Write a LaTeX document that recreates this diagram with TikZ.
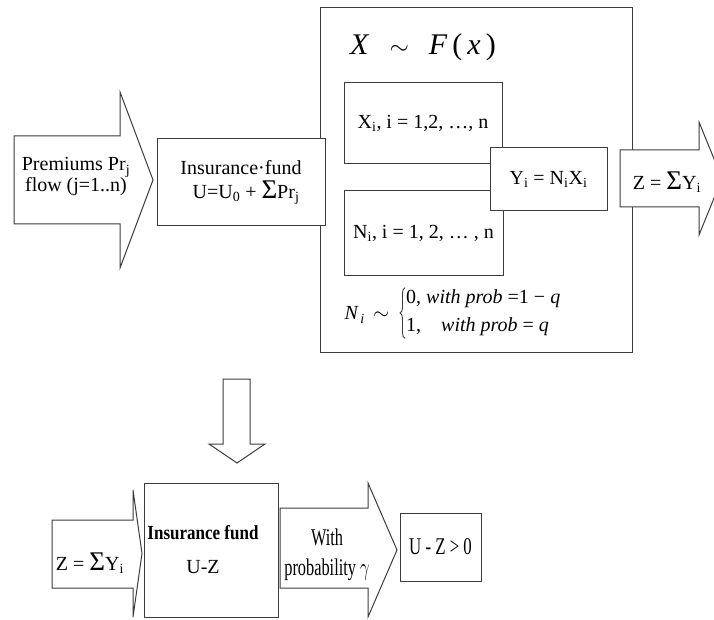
\documentclass[tikz,border=0pt]{standalone}
\usepackage{fontspec}
\usepackage{graphicx}
\usetikzlibrary{decorations.pathreplacing}
\setmainfont{Liberation Serif}
\definecolor{ln}{RGB}{60,60,60}
\newcommand{\bigsig}{{\fontsize{27}{20}\selectfont Σ}}
\begin{document}
\begin{tikzpicture}[x=1pt,y=-1pt,
  box/.style={draw=ln,line width=1pt,fill=white,inner sep=0pt},
  blk/.style={draw=ln,line width=1pt,fill=white,line join=miter},
  txt/.style={inner sep=0pt,align=center,font=\fontsize{20}{24}\selectfont}]
\useasboundingbox (0,0) rectangle (714,620);
\clip (0,0) rectangle (714,620);
% big box
\node[box,minimum width=312,minimum height=344] (big) at (476,180) {};
\node[txt,font=\fontsize{30}{32}\selectfont] (title) at (423,47) {\textit{X}\enspace\,$\sim$\enspace\,\textit{F}\,(\,\textit{x}\,)};
\node[box,minimum width=158,minimum height=81] (xbox) at (423,123.5) {};
\node[txt] (xt) at (xbox) {X\textsubscript{i}, i = 1,2, …, n};
\node[box,minimum width=159,minimum height=84] (nbox) at (423.5,233) {};
\node[txt] (nt) at (nbox) {N\textsubscript{i}, i = 1, 2, … , n};
\node[box,minimum width=117,minimum height=63] (ybox) at (548.5,179.5) {};
\node[txt] (yt) at (ybox) {Y\textsubscript{i} = N\textsubscript{i}X\textsubscript{i}};
\node[txt,font=\fontsize{20}{22}\selectfont] (nlab) at (367,315) {\textit{N\textsubscript{\,i}}\, $\sim$};
\node[txt,font=\fontsize{20}{28}\selectfont,align=left,anchor=west] (ncases) at (406,313)
  {0, \textit{with prob} =1 − \textit{q}\\1,\quad\textit{with prob} = \textit{q}};
\draw[ln,line width=0.9pt,decorate,decoration={brace,amplitude=5pt,raise=1pt}]
  (ncases.south west) ++(0,2) coordinate (bb) (ncases.north west) ++(0,-2) coordinate (bt) (bb) -- (bt);
% insurance fund box
\node[box,minimum width=168,minimum height=87] (ins) at (241,182.5) {};
\node[txt] (inst) at (ins) {Insurance·fund\\\hspace*{10pt}U=U\textsubscript{0} + \bigsig Pr\textsubscript{j}};
% premiums arrow
\draw[blk] (14,136) -- (120,136) -- (120,92) -- (153,180) -- (120,268) -- (120,224) -- (14,224) -- cycle;
\node[txt,font=\fontsize{20}{21}\selectfont] (prem) at (76,177) {Premiums Pr\textsubscript{j}\\flow (j=1..n)};
% Z arrow top
\draw[blk] (620,150) -- (699,150) -- (699,122) -- (722,178.5) -- (699,235) -- (699,207) -- (620,207) -- cycle;
\node[txt] (zt) at (667,182) {Z = \bigsig Y\textsubscript{i}};
% down arrow
\draw[blk] (223,379) -- (250,379) -- (250,444) -- (265,444) -- (237,463) -- (209,444) -- (223,444) -- cycle;
% bottom row
\draw[blk] (52,520) -- (133,520) -- (133,490) -- (142,553.5) -- (133,617) -- (133,588) -- (52,588) -- cycle;
\node[txt] (zb) at (90,563) {Z = \bigsig Y\textsubscript{i}};
\node[box,minimum width=134,minimum height=134] (fund) at (211,550) {};
\node[txt,font=\fontsize{20}{34}\selectfont] (fundt) at (203,550) {\scalebox{0.85}[1]{\bfseries Insurance fund}\\U-Z};
\draw[blk] (280,508) -- (368,508) -- (368,483) -- (397,550) -- (368,617) -- (368,588) -- (280,588) -- cycle;
\node[txt,font=\fontsize{24}{30}\selectfont] (prob) at (327,555) {\scalebox{0.68}[1]{With}\\\scalebox{0.68}[1]{probability $\gamma$}};
\node[box,minimum width=81,minimum height=68] (uz) at (440.5,547) {};
\node[txt,font=\fontsize{24}{28}\selectfont] (uzt) at (uz) {\scalebox{0.7}[1]{U - Z > 0}};
\end{tikzpicture}
\end{document}
